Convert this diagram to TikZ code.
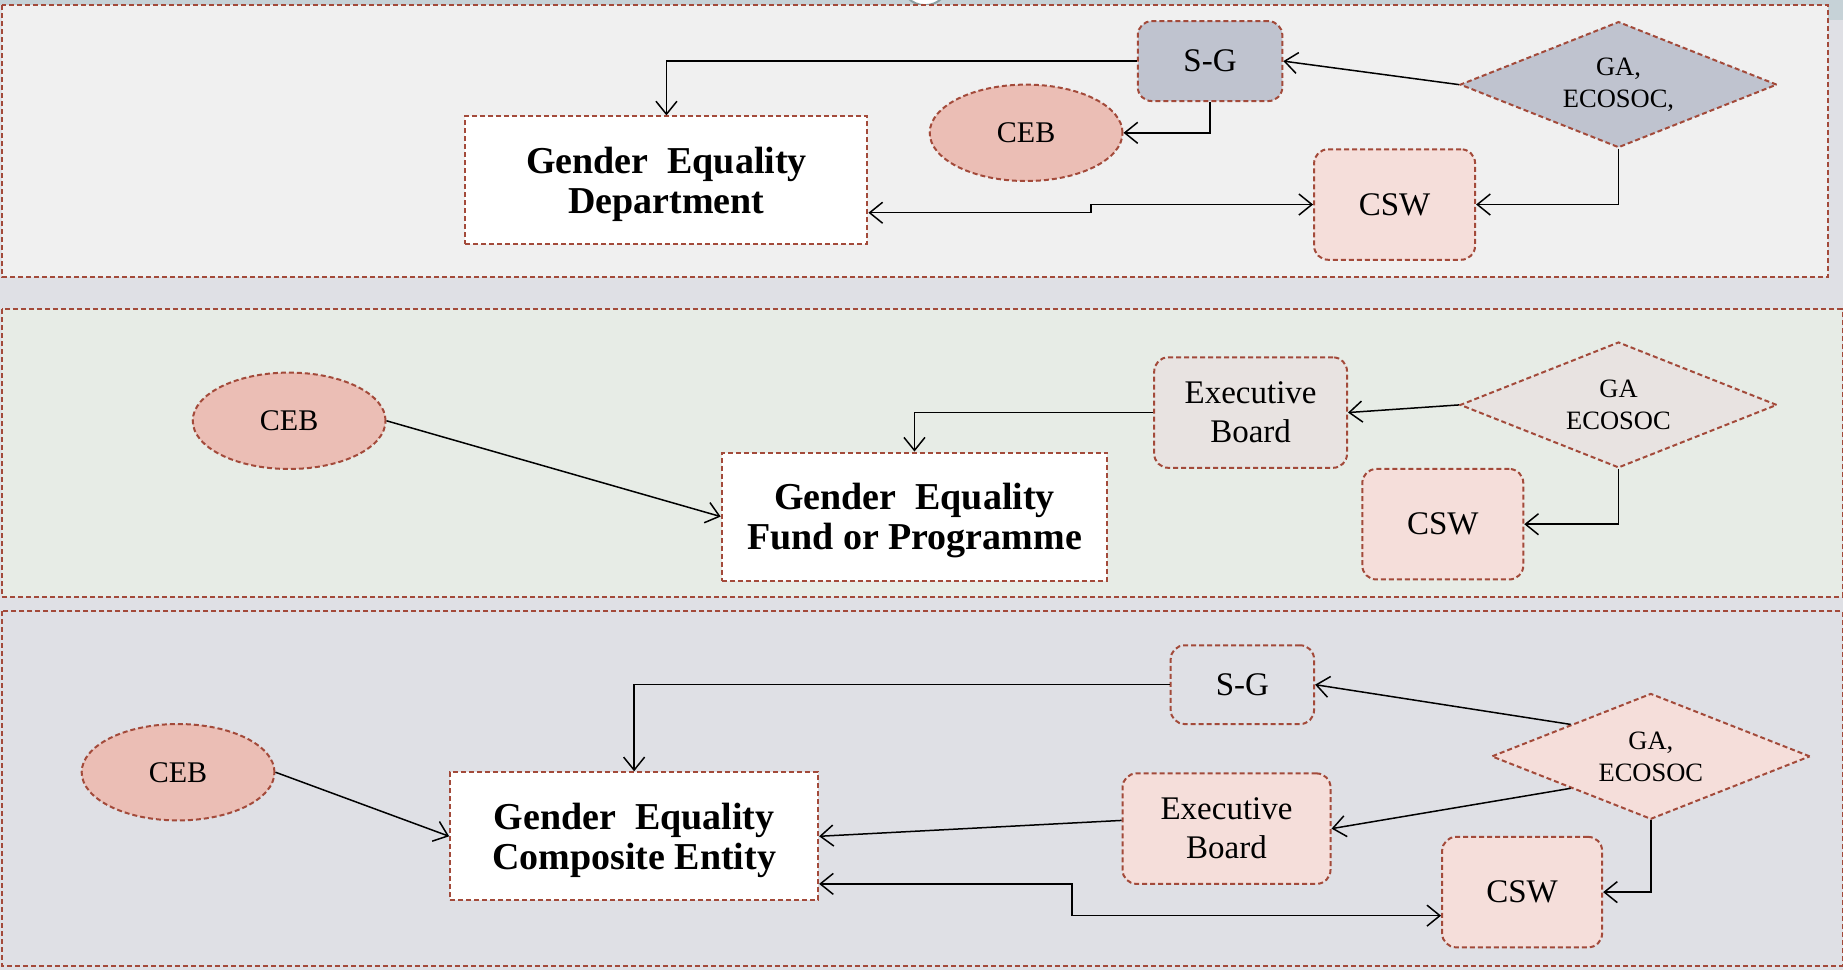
\documentclass[tikz,border=0pt]{standalone}
\usepackage{fontspec}
\setmainfont{Liberation Serif}
\usetikzlibrary{shapes.geometric,arrows.meta,calc}
\definecolor{bord}{RGB}{163,74,58}
\definecolor{bgall}{RGB}{223,224,229}
\definecolor{pone}{RGB}{240,240,240}
\definecolor{ptwo}{RGB}{231,236,230}
\definecolor{slate}{RGB}{191,195,207}
\definecolor{cebc}{RGB}{235,190,181}
\definecolor{pinkl}{RGB}{245,222,218}
\definecolor{greyp}{RGB}{232,227,225}
\definecolor{topstrip}{RGB}{198,210,215}
\definecolor{arcc}{RGB}{140,160,163}
\begin{document}
\begin{tikzpicture}[x=1.1754pt,y=-1.1754pt,
 dashbord/.style={draw=bord, line width=2pt, dash pattern=on 5pt off 3pt},
 panel/.style={dashbord, line width=1.8pt},
 rbox/.style={dashbord, rounded corners=14pt, inner sep=0pt, align=center, font=\fontsize{33}{39}\selectfont},
 mainbox/.style={dashbord, fill=white, inner sep=0pt, align=center, text depth=0pt, font=\fontsize{38}{40}\selectfont\bfseries},
 cebnode/.style={dashbord, ellipse, fill=cebc, minimum width=192.8pt, minimum height=96.4pt, inner sep=0pt, font=\fontsize{30}{39}\selectfont},
 gadia/.style={dashbord, diamond, aspect=2.5, minimum width=317pt, minimum height=126pt, inner sep=0pt, align=center, font=\fontsize{26.5}{32}\selectfont},
 arr/.style={draw=black, line width=1.5pt, -{Straight Barb[length=13pt,width=21pt]}},
 darr/.style={draw=black, line width=1.5pt, {Straight Barb[length=13pt,width=21pt]}-{Straight Barb[length=13pt,width=21pt]}}
]
\useasboundingbox (0,0) rectangle (1568,825);
% background
\fill[bgall] (0,0) rectangle (1568,825);
\fill[topstrip] (0,0) rectangle (1568,4.3);
\fill[topstrip] (1555,0) rectangle (1568,17);
\draw[arcc, fill=white, line width=2pt] (787,-16) circle (24pt);
% panels
\draw[panel, fill=pone] (2,4.3) rectangle (1555,236);
\draw[panel, fill=ptwo] (2,263) rectangle (1567.5,508);
\draw[panel, fill=bgall] (2,520) rectangle (1567.5,822);

% ---------- panel 1 ----------
\node[rbox, fill=slate, minimum width=144.6pt, minimum height=79.9pt] (SG1) at (1029.5,52) {S-G};
\node[gadia, fill=slate] (GA1) at (1377,72) {GA,\\ECOSOC,};
\node[cebnode] (CEB1) at (873,113) {CEB};
\node[mainbox, minimum width=402pt, minimum height=128pt] (GED) at (567,153.5) {Gender\ \ Equality\\Department};
\node[rbox, fill=pinkl, minimum width=161pt, minimum height=110.5pt] (CSW1) at (1186.5,174) {CSW};
\coordinate (b1) at (928,177);

\draw[arr] (SG1.west) -| (GED.north);
\draw[arr] (GA1.west) -- (SG1.east);
\draw[arr] (SG1.south) |- (CEB1.east);
\draw[arr] (GA1.south) |- (CSW1.east);
\draw[darr] ($(GED.east)+(0,27.5)$) -| (b1) |- (CSW1.west);

% ---------- panel 2 ----------
\node[cebnode] (CEB2) at (246,358) {CEB};
\node[rbox, fill=greyp, minimum width=192.8pt, minimum height=110.5pt] (EB2) at (1064,351) {Executive\\Board};
\node[gadia, fill=greyp, minimum height=125.8pt] (GA2) at (1377,344.5) {GA\\ECOSOC};
\node[mainbox, minimum width=385.5pt, minimum height=128pt] (GEFP) at (778,439.5) {Gender\ \ Equality\\Fund or Programme};
\node[rbox, fill=pinkl, minimum width=161pt, minimum height=110.5pt] (CSW2) at (1227.5,446) {CSW};

\draw[arr] (CEB2.east) -- (GEFP.west);
\draw[arr] (EB2.west) -| (GEFP.north);
\draw[arr] (GA2.west) -- (EB2.east);
\draw[arr] (GA2.south) |- (CSW2.east);

% ---------- panel 3 ----------
\node[rbox, fill=bgall, minimum width=143.4pt, minimum height=78.8pt] (SG3) at (1057,582.5) {S-G};
\node[gadia, fill=pinkl, minimum width=318.5pt, minimum height=125.8pt] (GA3) at (1404.5,643.5) {GA,\\ECOSOC};
\node[cebnode] (CEB3) at (151.5,657) {CEB};
\node[mainbox, minimum width=368pt, minimum height=128pt] (GECE) at (539.5,711.5) {Gender\ \ Equality\\Composite Entity};
\node[rbox, fill=pinkl, minimum width=208pt, minimum height=110.5pt] (EB3) at (1043.5,705) {Executive\\Board};
\node[rbox, fill=pinkl, minimum width=160pt, minimum height=110.5pt] (CSW3) at (1295,759) {CSW};
\coordinate (b3) at (912,779);

\draw[arr] (SG3.west) -| (GECE.north);
\draw[arr] ($(GA3.west)!0.5!(GA3.north)$) -- (SG3.east);
\draw[arr] ($(GA3.west)!0.5!(GA3.south)$) -- (EB3.east);
\draw[arr] ($(EB3.west)+(0,-7)$) -- (GECE.east);
\draw[arr] (CEB3.east) -- (GECE.west);
\draw[arr] (GA3.south) |- (CSW3.east);
\draw[darr] ($(GECE.east)+(0,40.5)$) -| (b3) -- ($(CSW3.west)+(0,20)$);
\end{tikzpicture}
\end{document}
